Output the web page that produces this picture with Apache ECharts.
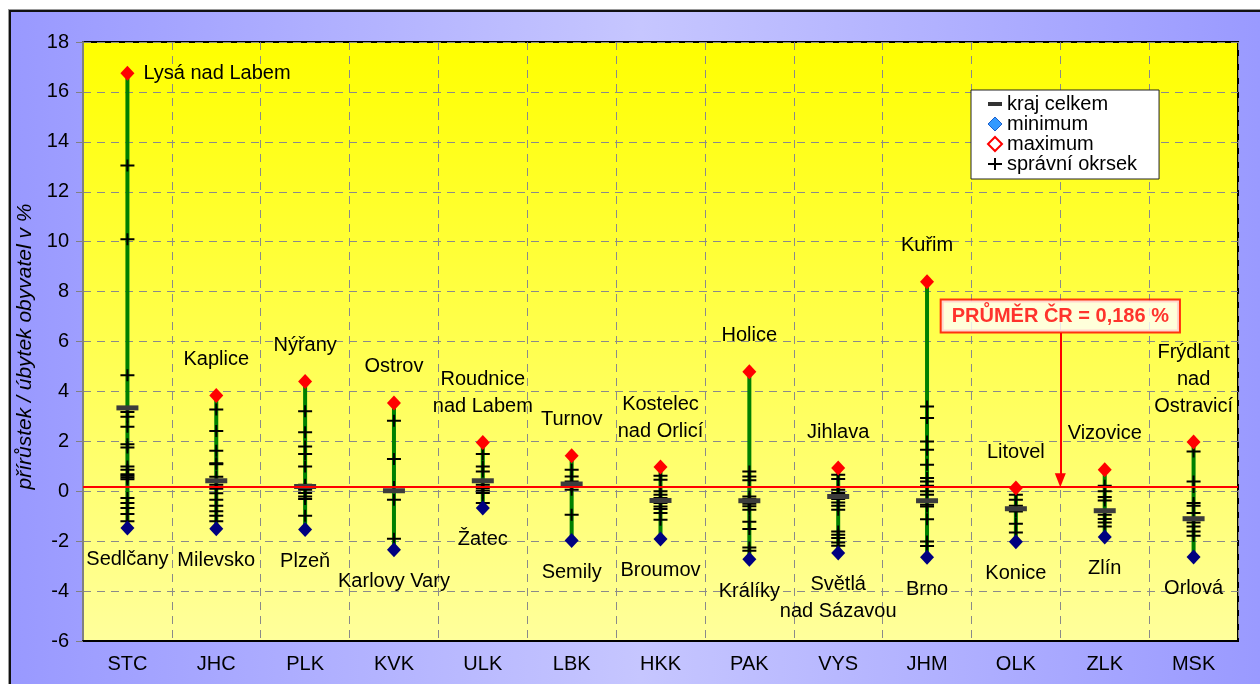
<!DOCTYPE html>
<html><head><meta charset="utf-8">
<script src="https://cdn.jsdelivr.net/npm/echarts@6/dist/echarts.min.js"></script>
<style>
html,body{margin:0;padding:0;background:#fff;width:1260px;height:684px;overflow:hidden}
#frame{position:absolute;left:9px;top:10px;width:1260px;height:690px;border-top:2px solid #111;border-left:2px solid #111;background:linear-gradient(to right,#9999ff 0%,#c6c6ff 50%,#9999ff 100%);box-shadow:-1px -1px 0 #999}
#chart{position:absolute;left:0;top:0;width:1260px;height:684px}
</style></head><body>
<div id="frame"></div><div id="chart"></div>
<script>
const regions = ['STC','JHC','PLK','KVK','ULK','LBK','HKK','PAK','VYS','JHM','OLK','ZLK','MSK'];
const maxValues = [16.75, 3.84, 4.40, 3.54, 1.95, 1.42, 0.97, 4.79, 0.93, 8.39, 0.13, 0.86, 1.97];
const maxNames = ['Lysá nad Labem','Kaplice','Nýřany','Ostrov','Roudnice\nnad Labem','Turnov','Kostelec\nnad Orlicí','Holice','Jihlava','Kuřim','Litovel','Vizovice','Frýdlant\nnad\nOstravicí'];
const minValues = [-1.47, -1.50, -1.53, -2.34, -0.67, -1.97, -1.91, -2.72, -2.47, -2.64, -2.02, -1.83, -2.63];
const minNames = ['Sedlčany','Milevsko','Plzeň','Karlovy Vary','Žatec','Semily','Broumov','Králíky','Světlá\nnad Sázavou','Brno','Konice','Zlín','Orlová'];
const krajValues = [3.34, 0.42, 0.19, 0.02, 0.42, 0.29, -0.37, -0.38, -0.21, -0.38, -0.70, -0.78, -1.10];
const okrsekValues = [
  [13.05, 10.1, 4.65, 3.18, 2.98, 2.58, 1.88, 1.75, 0.99, 0.86, 0.68, 0.62, 0.55, 0.48, -0.27, -0.47, -0.67, -0.91, -1.2],
  [3.28, 2.41, 1.62, 1.12, 1.08, 0.58, 0.26, 0.1, -0.08, -0.34, -0.58, -0.8, -0.98, -1.2],
  [3.21, 2.36, 1.79, 1.49, 0.99, 0.26, 0.06, -0.07, -0.21, -0.31, -0.98],
  [2.82, 1.29, 0.17, -0.34, -1.9],
  [1.49, 0.99, 0.79, 0.26, 0.13, 0.03, -0.07, -0.47],
  [0.86, 0.59, 0.39, 0.19, 0.06, -0.94],
  [0.62, 0.46, 0.0, -0.14, -0.27, -0.47, -0.61, -0.71, -0.87, -1.14],
  [0.79, 0.59, 0.44, -0.21, -0.31, -0.5, -0.6, -0.74, -1.22, -1.51, -2.25, -2.38],
  [0.66, 0.49, 0.06, -0.07, -0.31, -0.45, -0.58, -0.74, -1.61, -1.74, -1.87, -2.05, -2.18],
  [3.4, 2.93, 1.99, 1.66, 1.06, 0.53, 0.39, 0.22, 0.0, -0.14, -0.54, -0.61, -1.12, -2.01, -2.19],
  [-0.14, -0.34, -0.58, -0.81, -1.3, -1.65],
  [0.22, 0.0, -0.23, -0.37, -0.94, -1.11, -1.25, -1.41],
  [1.59, 0.39, 0.17, -0.47, -0.58, -0.87, -1.25, -1.41, -1.61, -1.78]
];
const yTicks = {min: -6, max: 18, interval: 2};
const czAverage = 0.186;
const avgLabel = 'PRŮMĚR ČR = ' + String(czAverage).replace('.', ',') + ' %';
const avgBox = {x: 11, y: 7.02, arrowFrom: 6.34};

const FONT = '"Liberation Sans", Arial, sans-serif';
const PLUS = 'path://M0,5H14V7H0Z M6,0H8V12H6Z';

const chart = echarts.init(document.getElementById('chart'), null, {renderer: 'canvas'});
chart.setOption({
  animation: false,
  backgroundColor: 'transparent',
  textStyle: {fontFamily: FONT},
  grid: {
    left: 83, top: 42, right: 22, bottom: 43, show: true,
    backgroundColor: new echarts.graphic.LinearGradient(0, 0, 0, 1, [
      {offset: 0, color: '#ffff00'}, {offset: 1, color: '#ffff9c'}]),
    borderColor: '#000', borderWidth: 2
  },
  legend: {
    orient: 'vertical', left: 971, top: 90,
    backgroundColor: '#fff', borderColor: '#222', borderWidth: 1,
    padding: [4, 22, 5, 16], itemWidth: 14, itemHeight: 14, itemGap: 0,
    textStyle: {fontSize: 20, color: '#000', fontFamily: FONT, lineHeight: 18},
    data: [
      {name: 'kraj celkem', icon: 'path://M0,0L0,0M0,5H14V9H0ZM14,14L14,14', itemStyle: {color: '#333'}},
      {name: 'minimum', icon: 'diamond', itemStyle: {color: '#3399ff', borderColor: '#1a5fcc', borderWidth: 1}},
      {name: 'maximum', icon: 'diamond', itemStyle: {color: '#fff', borderColor: '#ff0000', borderWidth: 2}},
      {name: 'správní okrsek', icon: PLUS, itemStyle: {color: '#000'}}
    ]
  },
  xAxis: [{
    type: 'category', data: regions, boundaryGap: true,
    axisLine: {onZero: false, lineStyle: {color: '#000', width: 2}},
    axisTick: {show: false},
    axisLabel: {fontSize: 20, color: '#000', margin: 13, fontFamily: FONT},
    splitLine: {show: true, lineStyle: {color: '#8a8a8a', type: [8, 6], width: 1}}
  }, {
    type: 'value', min: 0, max: 13, show: false
  }],
  yAxis: {
    type: 'value', min: yTicks.min, max: yTicks.max, interval: yTicks.interval,
    name: 'přírůstek / úbytek obyvatel v %', nameLocation: 'middle', nameGap: 42,
    nameTextStyle: {fontSize: 21, fontStyle: 'italic', color: '#000', fontFamily: FONT, padding: [0, 0, 0, -10]},
    axisLine: {show: true, onZero: false, lineStyle: {color: '#808080', width: 2}},
    axisTick: {show: true, length: 7, lineStyle: {color: '#808080'}},
    axisLabel: {fontSize: 20, color: '#000', margin: 14, fontFamily: FONT},
    splitLine: {show: true, lineStyle: {color: '#8a8a8a', type: [8, 6], width: 1}}
  },
  series: [
    {
      type: 'custom', name: 'range', silent: true, z: 1,
      data: regions.map((r, i) => [i, minValues[i], maxValues[i]]),
      encode: {x: 0, y: [1, 2]},
      renderItem(params, api) {
        const p1 = api.coord([api.value(0), api.value(1)]);
        const p2 = api.coord([api.value(0), api.value(2)]);
        return {type: 'line', shape: {x1: p1[0], y1: p1[1], x2: p2[0], y2: p2[1]},
          style: {stroke: '#008000', lineWidth: 4}};
      },
      markLine: {
        silent: true, symbol: 'none', label: {show: false},
        lineStyle: {color: '#ff0000', width: 2, type: 'solid'},
        data: [{yAxis: czAverage}]
      }
    },
    {
      type: 'scatter', name: 'správní okrsek', z: 3,
      symbol: PLUS, symbolSize: [14, 12], itemStyle: {color: '#000', opacity: 1},
      data: okrsekValues.flatMap((arr, i) => arr.map(v => [i, v]))
    },
    {
      type: 'scatter', name: 'kraj celkem', z: 4,
      symbol: 'rect', symbolSize: [22, 5], itemStyle: {color: '#3c3c3c', opacity: 1},
      data: krajValues.map((v, i) => [i, v])
    },
    {
      type: 'scatter', name: 'minimum', z: 5,
      symbol: 'diamond', symbolSize: [14, 15], itemStyle: {color: '#000080', opacity: 1},
      data: minValues.map((v, i) => [i, v]),
      label: {show: true, position: 'bottom', distance: 11, fontSize: 20, lineHeight: 27,
        color: '#000', fontFamily: FONT, formatter: p => minNames[p.dataIndex]}
    },
    {
      type: 'scatter', name: 'maximum', z: 5,
      symbol: 'diamond', symbolSize: [14, 15], itemStyle: {color: '#ff0000', opacity: 1},
      data: maxValues.map((v, i) => i === 0
        ? {value: [i, v], label: {position: 'right', distance: 9}}
        : [i, v]),
      label: {show: true, position: 'top', distance: 15, fontSize: 20, lineHeight: 27,
        color: '#000', fontFamily: FONT, formatter: p => maxNames[p.dataIndex]}
    },
    {
      type: 'scatter', name: 'avg', xAxisIndex: 1, z: 6, silent: true,
      symbolSize: 0, data: [[avgBox.x, avgBox.y]],
      label: {show: true, position: 'inside', formatter: avgLabel, fontSize: 20, fontWeight: 'bold',
        color: '#ff0000', fontFamily: FONT, backgroundColor: '#fff', borderColor: '#ff0000',
        borderWidth: 2, padding: [6, 10, 5, 10]},
      markLine: {
        silent: true, symbol: ['none', 'triangle'], symbolSize: [11, 14], symbolRotate: 180,
        label: {show: false}, lineStyle: {color: '#ff0000', width: 2, type: 'solid'},
        data: [[{coord: [avgBox.x, avgBox.arrowFrom]}, {coord: [avgBox.x, czAverage + 0.25]}]]
      }
    }
  ]
});
</script>
</body></html>
